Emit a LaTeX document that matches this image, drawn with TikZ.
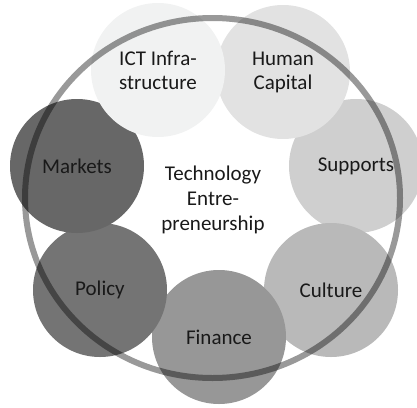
\documentclass[tikz,border=0pt]{standalone}
\usepackage{fontspec}
\setmainfont{Carlito}

\definecolor{ictgray}{HTML}{F1F2F2}
\definecolor{humangray}{HTML}{E2E2E2}
\definecolor{supportgray}{HTML}{CFCFCF}
\definecolor{culturegray}{HTML}{B9B9B9}
\definecolor{financegray}{HTML}{979797}
\definecolor{policygray}{HTML}{747474}
\definecolor{marketgray}{HTML}{676767}

\begin{document}
\begin{tikzpicture}[x=1pt,y=-1pt,
  disc/.style={circle, minimum size=134pt, inner sep=0pt, align=center,
    text=black!90, font=\fontsize{21pt}{24pt}\selectfont}]
\useasboundingbox (0,0) rectangle (417,407);
\node[disc, fill=supportgray] (3) at (356,166) {Supports};
\node[disc, fill=humangray] (2) at (283,72) {Human\\Capital};
\node[disc, fill=culturegray] (4) at (331,290) {Culture};
\node[disc, fill=financegray] (5) at (219,337) {Finance};
\node[disc, fill=policygray] (6) at (100,290) {Policy};
\node[disc, fill=marketgray] (7) at (77,166) {Markets};
\node[disc, fill=ictgray] (1) at (158,70) {ICT Infra-\\structure};
\node[align=center, text=black!90, font=\fontsize{21pt}{25pt}\selectfont] (0) at (213,200) {Technology\\Entre-\\preneurship};

\draw[line width=6pt, black!40, blend mode=multiply] (212.5,198) ellipse [x radius=187.5pt, y radius=180pt];
\end{tikzpicture}
\end{document}
